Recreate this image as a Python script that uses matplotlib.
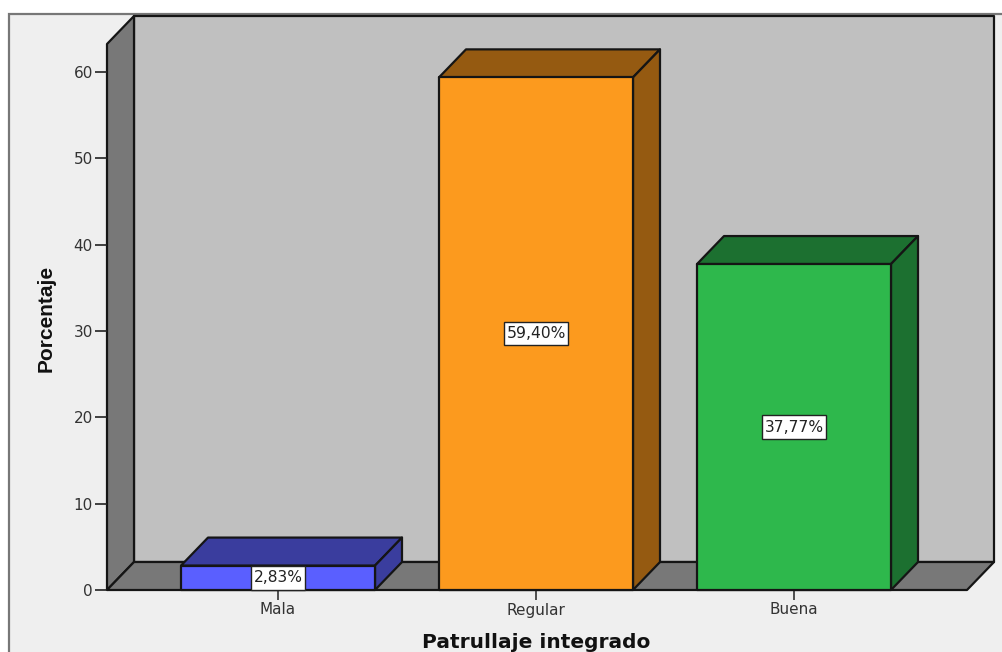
import matplotlib
matplotlib.use("Agg")
import matplotlib.pyplot as plt
from matplotlib.patches import Polygon, Rectangle

categories = ["Mala", "Regular", "Buena"]
values = [2.83, 59.40, 37.77]
value_labels = ["2,83%", "59,40%", "37,77%"]
yticks = [0, 10, 20, 30, 40, 50, 60]
front_colors = ["#5A5FFF", "#FC9A1E", "#2EB84C"]
dark_colors = ["#3A3D9E", "#955A11", "#1C7030"]

W, H = 1002, 652
plt.rcParams["font.family"] = ["DejaVu Sans"]
fig = plt.figure(figsize=(W / 100, H / 100), dpi=100, facecolor="white")

# chart frame
fig.add_artist(Rectangle((9 / W, -0.1), 1.1, (H - 14) / H + 0.1, transform=fig.transFigure,
                         facecolor="#EFEFEF", edgecolor="#777777", linewidth=1.6, zorder=-1))

L, R, T, B = 107, 967, 44, 590
ax = fig.add_axes([L / W, (H - B) / H, (R - L) / W, (B - T) / H])
ax.patch.set_visible(False)
for s in ax.spines.values():
    s.set_visible(False)

ppx = 258.0   # pixels per category
ppy = 8.63    # pixels per percent
x0 = -(278 - L) / ppx
x1 = (R - 278) / ppx
y1 = (B - T) / ppy
ax.set_xlim(x0, x1)
ax.set_ylim(0, y1)
dx = 27 / ppx
dy = 28 / ppy
bw = 194 / ppx

lk = dict(edgecolor="#151515", linewidth=1.6, clip_on=False, joinstyle="round")
# back wall, side wall, floor
ax.add_patch(Polygon([(x0 + dx, dy), (x1 + dx, dy), (x1 + dx, y1 + dy), (x0 + dx, y1 + dy)],
                     facecolor="#C0C0C0", zorder=1, **lk))
ax.add_patch(Polygon([(x0, 0), (x0 + dx, dy), (x0 + dx, y1 + dy), (x0, y1)],
                     facecolor="#787878", zorder=1.1, **lk))
ax.add_patch(Polygon([(x0, 0), (x1, 0), (x1 + dx, dy), (x0 + dx, dy)],
                     facecolor="#787878", zorder=1.2, **lk))

renderer = fig.canvas.get_renderer()
for i, v in enumerate(values):
    a, b = i - bw / 2, i + bw / 2
    ax.add_patch(Polygon([(a, v), (b, v), (b + dx, v + dy), (a + dx, v + dy)],
                         facecolor=dark_colors[i], zorder=2, **lk))
    ax.add_patch(Polygon([(b, 0), (b + dx, dy), (b + dx, v + dy), (b, v)],
                         facecolor=dark_colors[i], zorder=2, **lk))
    ax.add_patch(Polygon([(a, 0), (b, 0), (b, v), (a, v)],
                         facecolor=front_colors[i], zorder=3, **lk))
    t = ax.text(i, v / 2, value_labels[i], ha="center", va="center", fontsize=11.2,
                color="#222222", zorder=5)
    bw_lbl = (t.get_window_extent(renderer).width + 5) / ppx
    bh_lbl = 23.5 / ppy
    ax.add_patch(Rectangle((i - bw_lbl / 2, v / 2 - bh_lbl / 2), bw_lbl, bh_lbl, facecolor="white",
                           edgecolor="#222222", linewidth=1, zorder=4, clip_on=False))

ax.set_xticks(range(len(categories)), categories)
ax.set_yticks(yticks)
ax.tick_params(axis="y", length=8.6, width=1.2, color="#222222", labelsize=11,
               labelcolor="#333333", pad=1.5)
ax.tick_params(axis="x", length=7.5, width=1.2, color="#333333", labelsize=11,
               labelcolor="#333333", pad=1.5)

fig.text(46 / W, 1 - 318 / H, "Porcentaje", rotation=90, ha="center", va="center",
         fontsize=15, fontweight="bold", color="#111111", family=["Liberation Sans"])
fig.text(536 / W, 1 - 642 / H, "Patrullaje integrado", ha="center", va="center",
         fontsize=14.5, fontweight="bold", color="#111111")

fig.savefig("out.png", dpi=100, facecolor=fig.get_facecolor())
